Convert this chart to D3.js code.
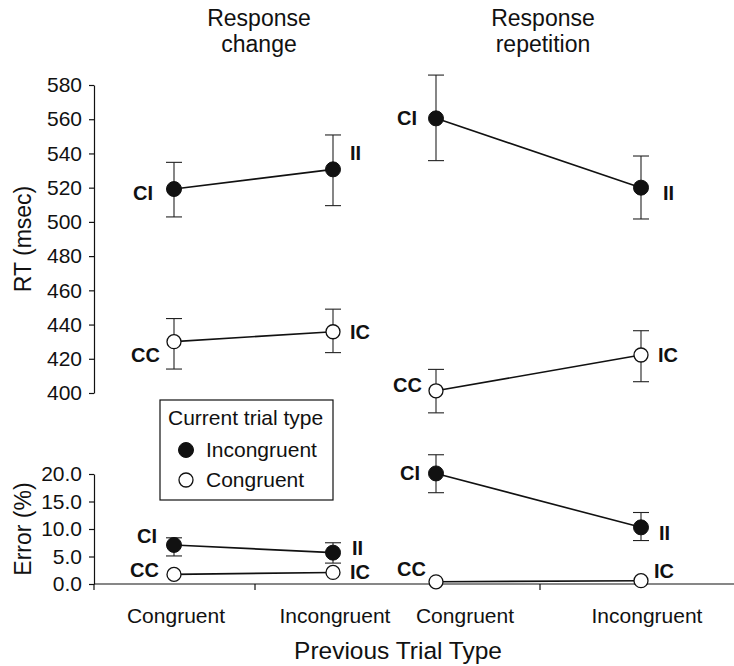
<!DOCTYPE html>
<html>
<head>
<meta charset="utf-8">
<script src="https://cdn.jsdelivr.net/npm/d3@7"></script>
<style>
  html, body { margin: 0; padding: 0; background: #fff; }
  text { font-family: "Liberation Sans", Arial, Helvetica, sans-serif; fill: #111; }
</style>
</head>
<body>
<svg id="chart" width="734" height="666"></svg>
<script>
// ---------------- DATA ----------------
const panels = ["Response change", "Response repetition"];
const prevTypes = ["Congruent", "Incongruent"];
// order: [change-Congruent, change-Incongruent, repetition-Congruent, repetition-Incongruent]
const rtIncongruent   = [519.2, 530.7, 560.5, 520.0];
const rtIncongruentLo = [502.9, 509.5, 535.8, 501.7];
const rtIncongruentHi = [534.8, 550.8, 585.8, 538.5];
const rtCongruent     = [430.0, 435.8, 401.3, 422.2];
const rtCongruentLo   = [414.0, 423.6, 388.4, 406.6];
const rtCongruentHi   = [443.5, 449.0, 413.8, 436.4];
const errIncongruent   = [7.1, 5.7, 20.1, 10.3];
const errIncongruentLo = [5.1, 3.8, 16.6, 7.9];
const errIncongruentHi = [8.4, 7.5, 23.5, 13.0];
const errCongruent     = [1.75, 2.1, 0.4, 0.6];
const incLabels = ["CI", "II"];
const conLabels = ["CC", "IC"];
const rtTicks = [400, 420, 440, 460, 480, 500, 520, 540, 560, 580];
const errTicks = [0, 5, 10, 15, 20];
const legendItems = ["Incongruent", "Congruent"];

// ---------------- LAYOUT ----------------
const svg = d3.select("#chart");
const axisX = 94;
const panelPointRange = [[174, 333], [436, 641]];
const panelLabelRange = [[176, 335], [465, 647]];
const xPoint = panelPointRange.map(r => d3.scalePoint().domain(prevTypes).range(r));
const xLabel = panelLabelRange.map(r => d3.scalePoint().domain(prevTypes).range(r));
const yRT = d3.scaleLinear().domain([400, 580]).range([393, 85]);
const yErr = d3.scaleLinear().domain([0, 20]).range([584, 474]);
const R = 7.5, CAP = 8;

// label offsets [dx, dy, anchor] per measure/panel/point
const labelOffsets = {
  rt: [
    { inc: [[-21, 11, "end"], [17, -9, "start"]], con: [[-14, 20, "end"], [17, 7, "start"]] },
    { inc: [[-19, 7, "end"], [22, 12, "start"]], con: [[-14, 1, "end"], [17, 7, "start"]] }
  ],
  err: [
    { inc: [[-17, -2, "end"], [19, 2, "start"]], con: [[-15, 3, "end"], [17, 7, "start"]] },
    { inc: [[-16, 7, "end"], [18, 13, "start"]], con: [[-10, -6, "end"], [13, -3, "start"]] }
  ]
};

// ---------------- AXES ----------------
const gRT = svg.append("g").attr("transform", `translate(${axisX},0)`)
  .call(d3.axisLeft(yRT).tickValues(rtTicks).tickSize(5).tickSizeOuter(0).tickPadding(7));
const gErr = svg.append("g").attr("transform", `translate(${axisX},0)`)
  .call(d3.axisLeft(yErr).tickValues(errTicks).tickFormat(d3.format(".1f")).tickSize(5).tickSizeOuter(0).tickPadding(7));
[gRT, gErr].forEach(g => {
  g.selectAll("text").style("font-size", "21px").style("font-family", "'Liberation Sans', Arial, sans-serif").attr("fill", "#111");
  g.selectAll("line, path").attr("stroke", "#111").attr("stroke-width", 1.2);
});

// bottom axis line + ticks
svg.append("line").attr("x1", axisX).attr("x2", 734).attr("y1", yErr(0)).attr("y2", yErr(0))
  .attr("stroke", "#111").attr("stroke-width", 1.2);
[axisX, 255, 540].forEach(x => {
  svg.append("line").attr("x1", x).attr("x2", x).attr("y1", yErr(0)).attr("y2", yErr(0) + 6)
    .attr("stroke", "#111").attr("stroke-width", 1.2);
});

// category labels
panels.forEach((p, pi) => {
  prevTypes.forEach(t => {
    svg.append("text").attr("x", xLabel[pi](t)).attr("y", 623)
      .attr("text-anchor", "middle").style("font-size", "21px").text(t);
  });
});

// panel titles
const titleLines = [["Response", "change"], ["Response", "repetition"]];
const titleX = [259, 543];
titleLines.forEach((lines, i) => {
  lines.forEach((l, j) => {
    svg.append("text").attr("x", titleX[i]).attr("y", 26 + j * 26)
      .attr("text-anchor", "middle").style("font-size", "23px").text(l);
  });
});

// axis titles
svg.append("text").attr("transform", `translate(31,${(yRT(400) + yRT(580)) / 2}) rotate(-90)`)
  .attr("text-anchor", "middle").style("font-size", "23px").text("RT (msec)");
svg.append("text").attr("transform", `translate(31,${(yErr(0) + yErr(20)) / 2}) rotate(-90)`)
  .attr("text-anchor", "middle").style("font-size", "23px").text("Error (%)");
svg.append("text").attr("x", 398).attr("y", 659).attr("text-anchor", "middle")
  .style("font-size", "24.5px").text("Previous Trial Type");

// ---------------- SERIES ----------------
function drawSeries(measure, y, mean, lo, hi, filled, labels, key) {
  panels.forEach((p, pi) => {
    const pts = prevTypes.map((t, ti) => {
      const i = pi * 2 + ti;
      return { x: xPoint[pi](t), m: mean[i], lo: lo ? lo[i] : null, hi: hi ? hi[i] : null, lab: labels[ti], off: labelOffsets[measure][pi][key][ti] };
    });
    svg.append("path").datum(pts)
      .attr("d", d3.line().x(d => d.x).y(d => y(d.m)))
      .attr("fill", "none").attr("stroke", "#111").attr("stroke-width", 1.6);
    pts.forEach(d => {
      if (d.lo !== null) {
        const g = svg.append("g").attr("stroke", "#222").attr("stroke-width", 1.1);
        g.append("line").attr("x1", d.x).attr("x2", d.x).attr("y1", y(d.lo)).attr("y2", y(d.hi));
        g.append("line").attr("x1", d.x - CAP).attr("x2", d.x + CAP).attr("y1", y(d.lo)).attr("y2", y(d.lo));
        g.append("line").attr("x1", d.x - CAP).attr("x2", d.x + CAP).attr("y1", y(d.hi)).attr("y2", y(d.hi));
      }
    });
    pts.forEach(d => {
      svg.append("circle").attr("cx", d.x).attr("cy", y(d.m)).attr("r", filled ? R : R - 0.5)
        .attr("fill", filled ? "#111" : "#fff").attr("stroke", "#111").attr("stroke-width", filled ? 1 : 1.3);
      svg.append("text").attr("x", d.x + d.off[0]).attr("y", y(d.m) + d.off[1])
        .attr("text-anchor", d.off[2]).style("font-size", "20px").style("font-weight", "bold").text(d.lab);
    });
  });
}
drawSeries("rt", yRT, rtCongruent, rtCongruentLo, rtCongruentHi, false, conLabels, "con");
drawSeries("rt", yRT, rtIncongruent, rtIncongruentLo, rtIncongruentHi, true, incLabels, "inc");
drawSeries("err", yErr, errCongruent, null, null, false, conLabels, "con");
drawSeries("err", yErr, errIncongruent, errIncongruentLo, errIncongruentHi, true, incLabels, "inc");

// ---------------- LEGEND ----------------
const lg = svg.append("g");
lg.append("rect").attr("x", 160).attr("y", 400).attr("width", 173).attr("height", 100)
  .attr("fill", "#fff").attr("stroke", "#111").attr("stroke-width", 1.2);
lg.append("text").attr("x", 168).attr("y", 425).style("font-size", "21px").text("Current trial type");
legendItems.forEach((name, i) => {
  lg.append("circle").attr("cx", 186).attr("cy", 450 + i * 30).attr("r", i === 0 ? R : R - 0.5)
    .attr("fill", i === 0 ? "#111" : "#fff").attr("stroke", "#111").attr("stroke-width", i === 0 ? 1 : 1.3);
  lg.append("text").attr("x", 206).attr("y", 457 + i * 30).style("font-size", "21px").text(name);
});
</script>
</body>
</html>
